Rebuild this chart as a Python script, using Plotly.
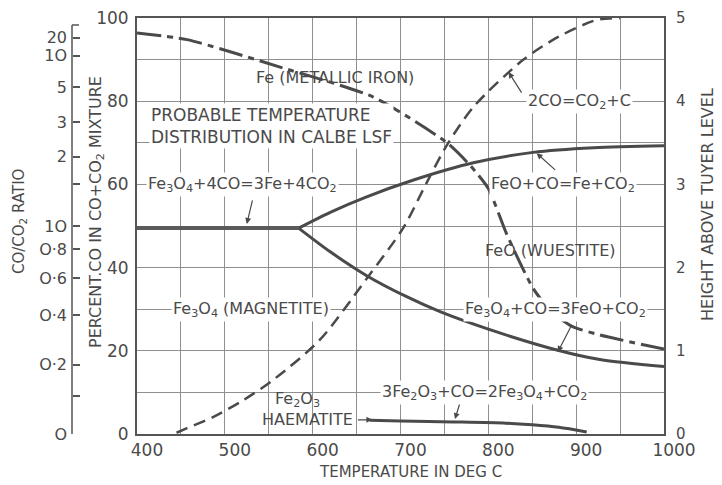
import plotly.graph_objects as go

# ---------------- data ----------------
temp_ticks = [400, 500, 600, 700, 800, 900, 1000]
pct_ticks = [0, 20, 40, 60, 80, 100]
height_ticks = [0, 1, 2, 3, 4, 5]
ratio_values = [20, 10, 5, 3, 2, 1.5, 1.0, 0.8, 0.6, 0.4, 0.2, 0.1, 0]
ratio_labels = ["20", "1O", "5", "3", "2", "", "1O", "O·8", "O·6", "O·4", "O·2", "", "O"]

# Fe3O4 + 4CO = 3Fe + 4CO2 (below ~570 C)
fe3o4_fe_temp = [400, 480, 540, 584]
fe3o4_fe_pct = [49.5, 49.5, 49.5, 49.5]

# FeO + CO = Fe + CO2
feo_fe_temp = [584, 620, 660, 714, 783, 851, 920, 1000]
feo_fe_pct = [49.5, 53.3, 56.9, 61.0, 65.2, 67.7, 68.8, 69.3]

# Fe3O4 + CO = 3FeO + CO2
fe3o4_feo_temp = [584, 620, 662, 707, 745, 800, 878, 927, 1000]
fe3o4_feo_pct = [49.5, 43.8, 38.0, 33.0, 29.4, 25.2, 20.2, 17.9, 16.2]

# 2CO = CO2 + C (Boudouard)
boud_temp = [445, 457, 486, 520, 555, 608, 662, 703, 730, 753, 783, 840, 880, 923, 950]
boud_pct = [0.3, 1.4, 4.0, 8.0, 13.0, 22.6, 37.5, 49.5, 60.5, 69.5, 78.6, 90.0, 95.5, 99.5, 100]

# 3Fe2O3 + CO = 2Fe3O4 + CO2
haem_temp = [665, 700, 760, 820, 850, 880, 912]
haem_pct = [3.3, 3.1, 2.9, 2.6, 2.2, 1.6, 0.5]

# Probable temperature distribution in Calbe LSF (height above tuyer level)
dist_temp = [400, 457, 566, 669, 753, 780, 800, 821, 851, 873, 896, 927, 1000]
dist_height = [4.82, 4.74, 4.40, 4.05, 3.50, 3.22, 2.95, 2.40, 1.75, 1.46, 1.29, 1.19, 1.02]

# ---------------- styling ----------------
INK = "#4a4a4a"
GRID = "#8f8f8f"
FONT = "DejaVu Sans"
OFF = 8                      # page body margin of the html page
PAGE_W, PAGE_H = 722, 485
W, H = PAGE_W - OFF, PAGE_H - OFF
# plot paper in page pixels: x 50..664, y 18..434
P_L, P_R, P_T, P_B = 50, 664, 18, 434
ML, MR, MT, MB = P_L - OFF, W - (P_R - OFF), P_T - OFF, H - (P_B - OFF)
PW = P_R - P_L
PH = P_B - P_T


def px_x(px):
    return (px - P_L) / PW


def px_y(py):
    return (P_B - py) / PH


def pct_of_ratio(r):
    return r / (1 + r) * 100


fig = go.Figure()

line_kw = dict(color=INK, width=3)
fig.add_trace(go.Scatter(x=fe3o4_fe_temp, y=fe3o4_fe_pct, mode="lines",
                         line=dict(color="#5a5a5a", width=4), hoverinfo="skip"))
fig.add_trace(go.Scatter(x=feo_fe_temp, y=feo_fe_pct, mode="lines",
                         line=dict(line_kw, shape="spline", smoothing=0.8), hoverinfo="skip"))
fig.add_trace(go.Scatter(x=fe3o4_feo_temp, y=fe3o4_feo_pct, mode="lines",
                         line=dict(line_kw, shape="spline", smoothing=0.8), hoverinfo="skip"))
fig.add_trace(go.Scatter(x=boud_temp, y=boud_pct, mode="lines",
                         line=dict(color=INK, width=2.5, dash="12px,7px", shape="spline",
                                   smoothing=0.8),
                         hoverinfo="skip"))
fig.add_trace(go.Scatter(x=haem_temp, y=haem_pct, mode="lines",
                         line=dict(line_kw, shape="spline", smoothing=0.8), hoverinfo="skip"))
fig.add_trace(go.Scatter(x=dist_temp, y=dist_height, mode="lines", yaxis="y2",
                         line=dict(color=INK, width=3, dash="24px,6px,6px,6px", shape="spline",
                                   smoothing=0.6),
                         hoverinfo="skip"))
# carrier for the ratio axis
fig.add_trace(go.Scatter(x=[None], y=[None], yaxis="y3", showlegend=False, hoverinfo="skip"))

xdom0 = px_x(137)

fig.update_layout(
    width=W, height=H,
    margin=dict(l=ML, r=MR, t=MT, b=MB, autoexpand=False),
    paper_bgcolor="white", plot_bgcolor="white",
    showlegend=False,
    font=dict(family=FONT, color=INK, size=14),
    xaxis=dict(
        domain=[xdom0, 1], range=[400, 1000], automargin=False,
        tickvals=temp_ticks, ticktext=[str(v) for v in temp_ticks],
        tickfont=dict(size=17, color=INK), ticks="", ticklabelstandoff=0,
        ticklabelshift=10, ticklabeloverflow="allow",
        showgrid=True, gridcolor=GRID, gridwidth=1,
        minor=dict(dtick=50, showgrid=True, gridcolor=GRID, gridwidth=1, tick0=400),
        showline=True, linecolor="#555555", linewidth=2, mirror=True,
        zeroline=False,
    ),
    yaxis=dict(
        range=[0, 100], tickvals=pct_ticks, ticktext=[str(v) for v in pct_ticks],
        automargin=False, ticklabeloverflow="allow",
        tickfont=dict(size=17, color=INK), ticks="", ticklabelstandoff=3,
        showgrid=True, gridcolor=GRID, gridwidth=1,
        minor=dict(dtick=10, showgrid=True, gridcolor=GRID, gridwidth=1, tick0=0),
        showline=True, linecolor="#555555", linewidth=2, mirror=True,
        zeroline=False,
    ),
    yaxis2=dict(
        overlaying="y", side="right", anchor="x", range=[0, 5], automargin=False,
        tickvals=height_ticks, ticktext=[str(v) for v in height_ticks],
        ticklabeloverflow="allow",
        tickfont=dict(size=15, color=INK), ticks="", ticklabelstandoff=11,
        showgrid=False, zeroline=False, showline=False,
    ),
    yaxis3=dict(
        overlaying="y", anchor="free", position=px_x(72), side="left",
        range=[0, 100], automargin=False, ticklabeloverflow="allow",
        tickvals=[pct_of_ratio(r) for r in ratio_values], ticktext=ratio_labels,
        tickfont=dict(size=16, color=INK), ticks="inside", ticklen=7,
        tickcolor="#555555", tickwidth=1.5, ticklabelstandoff=5,
        showgrid=False, zeroline=False, showline=False,
    ),
)

# ratio axis line
fig.add_shape(type="line", xref="paper", yref="paper",
              x0=px_x(72), x1=px_x(72), y0=0, y1=px_y(25),
              line=dict(color="#555555", width=1.5))
fig.add_shape(type="line", xref="paper", yref="paper",
              x0=px_x(72), x1=px_x(79), y0=px_y(25), y1=px_y(25),
              line=dict(color="#555555", width=1.5))


def title(text, xpx, ypx, angle=0, size=15):
    fig.add_annotation(text=text, xref="paper", yref="paper", x=px_x(xpx), y=px_y(ypx),
                       xanchor="center", yanchor="middle", textangle=angle,
                       showarrow=False, font=dict(size=size, color=INK))


title("CO/CO<sub>2</sub> RATIO", 19, 222, -90, 15)
title("PERCENT.CO IN CO+CO<sub>2</sub> MIXTURE", 96, 212, -90, 16)
title("HEIGHT ABOVE TUYER LEVEL", 708, 205, -90, 16)
title("TEMPERATURE IN DEG C", 410, 472, 0, 15)


def label(text, x, y, bg=True, size=16, align="center", xanchor="center"):
    fig.add_annotation(text=text, x=x, y=y, xref="x", yref="y", showarrow=False,
                       font=dict(size=size, color=INK), align=align, xanchor=xanchor,
                       yanchor="middle",
                       bgcolor="white" if bg else "rgba(0,0,0,0)", borderpad=1)


def pointer(x, y, ax, ay):
    fig.add_annotation(text="", x=x, y=y, xref="x", yref="y", ax=ax, ay=ay,
                       showarrow=True, arrowhead=2, arrowsize=1, arrowwidth=1.2,
                       arrowcolor=INK)


label("Fe (METALLIC IRON)", 625, 85.6, bg=False)
label("PROBABLE TEMPERATURE<br>DISTRIBUTION IN CALBE LSF", 414, 74, bg=True,
      align="left", xanchor="left", size=17)
label("2CO=CO<sub>2</sub>+C", 904, 80)
label("Fe<sub>3</sub>O<sub>4</sub>+4CO=3Fe+4CO<sub>2</sub>", 520, 60)
label("FeO+CO=Fe+CO<sub>2</sub>", 885, 60)
label("FeO (WUESTITE)", 871, 44.2, bg=False)
label("Fe<sub>3</sub>O<sub>4</sub> (MAGNETITE)", 530, 30)
label("Fe<sub>3</sub>O<sub>4</sub>+CO=3FeO+CO<sub>2</sub>", 877, 30)
label("3Fe<sub>2</sub>O<sub>3</sub>+CO=2Fe<sub>3</sub>O<sub>4</sub>+CO<sub>2</sub>", 796, 10)
label("Fe<sub>2</sub>O<sub>3</sub>", 583, 8.2, bg=False)
label("HAEMATITE", 594, 3.6, bg=False)

pointer(823, 87, 14, 22)
pointer(525, 50.5, 6, -25)
pointer(855, 67.5, 20, 18)
pointer(879, 19.7, 14, -27)
pointer(762, 3.6, 5, -16)
pointer(668, 3.4, -16, 0)

fig.write_html("out.html")
